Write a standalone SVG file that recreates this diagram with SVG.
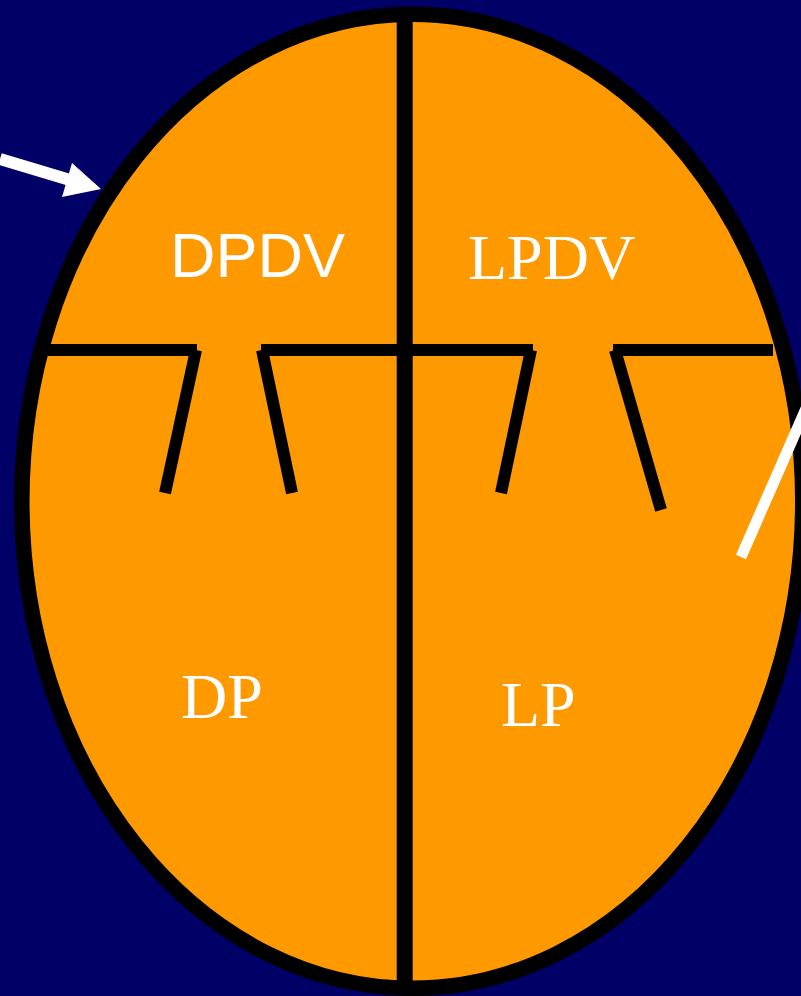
<svg xmlns="http://www.w3.org/2000/svg" width="801" height="996" viewBox="0 0 801 996">
  <style>
    .wall { stroke: #000000; stroke-width: 12; fill: none; stroke-linecap: butt; }
    .pointer { stroke: #FFFFFF; fill: none; stroke-linecap: butt; }
    .sans { font-family: "Liberation Sans", Arial, sans-serif; font-size: 63px; fill: #FFFFFF; }
    .serif { font-family: "Liberation Serif", "Times New Roman", serif; font-size: 64px; fill: #FFFFFF; }
  </style>
  <rect x="0" y="0" width="801" height="996" fill="#000066"/>
  <g id="egg">
    <ellipse cx="412.3" cy="501.3" rx="390.5" ry="487" fill="#FF9900" stroke="#000000" stroke-width="15.5"/>
  </g>
  <g id="divisions">
    <line x1="404.7" y1="12" x2="404.7" y2="990" stroke="#000000" stroke-width="16"/>
    <line class="wall" x1="44" y1="350" x2="197" y2="350"/>
    <line class="wall" x1="196" y1="350" x2="165" y2="493"/>
    <line class="wall" x1="261" y1="350" x2="405" y2="350"/>
    <line class="wall" x1="262" y1="350" x2="292" y2="493"/>
    <line class="wall" x1="405" y1="350" x2="533" y2="350"/>
    <line class="wall" x1="531" y1="350" x2="501" y2="493"/>
    <line class="wall" x1="613" y1="350" x2="773" y2="350"/>
    <line class="wall" x1="615" y1="350" x2="661" y2="510"/>
  </g>
  <g id="DPDV"><text class="sans" x="170" y="277">DPDV</text></g>
  <g id="LPDV"><text class="serif" x="468" y="279">LPDV</text></g>
  <g id="DP"><text class="serif" x="181" y="718">DP</text></g>
  <g id="LP"><text class="serif" x="501" y="726">LP</text></g>
  <g id="connectors">
    <line class="pointer" x1="0" y1="159" x2="70" y2="180" stroke-width="12"/>
    <polygon points="72,163 101,189 62,197" fill="#FFFFFF"/>
    <line class="pointer" x1="741" y1="557" x2="808" y2="404" stroke-width="11"/>
  </g>
</svg>
